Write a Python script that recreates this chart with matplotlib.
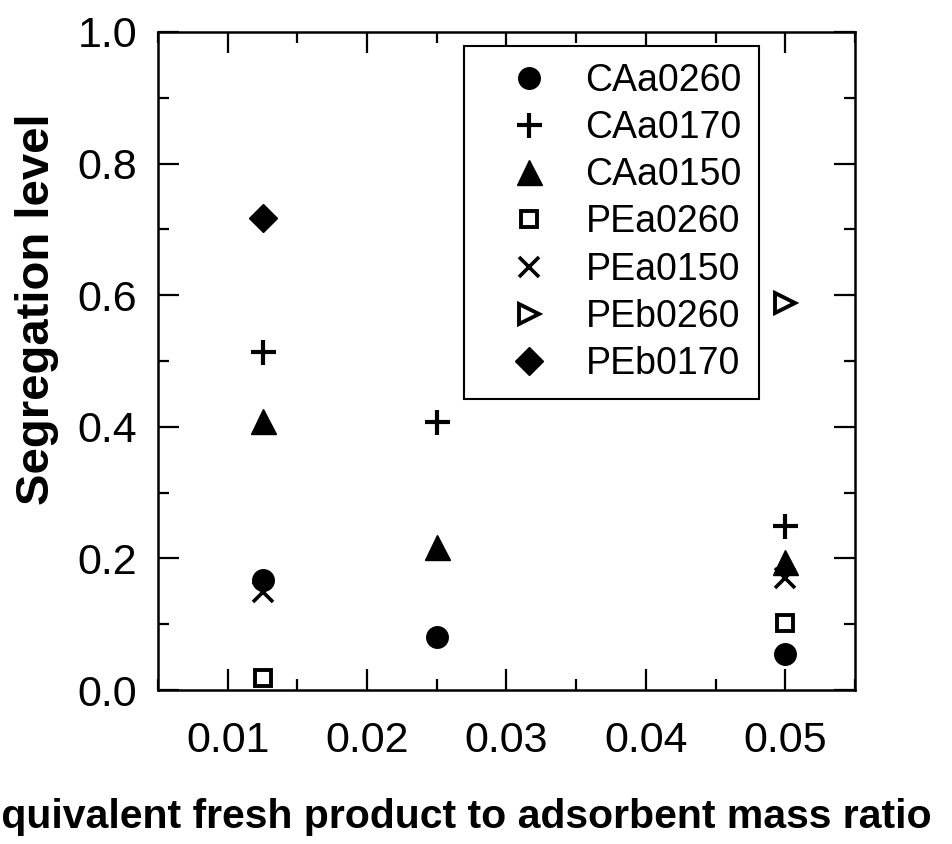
import matplotlib
matplotlib.use("Agg")
import matplotlib.pyplot as plt
from matplotlib.ticker import MultipleLocator, FormatStrFormatter

plt.rcParams['font.family'] = ['Liberation Sans', 'DejaVu Sans']

# mass ratios (x) and segregation levels (y) per sample
series_names = ['CAa0260', 'CAa0170', 'CAa0150', 'PEa0260', 'PEa0150', 'PEb0260', 'PEb0170']
x_caa0260 = [0.0125, 0.025, 0.05]
y_caa0260 = [0.167, 0.081, 0.055]
x_caa0170 = [0.0125, 0.025, 0.05]
y_caa0170 = [0.514, 0.407, 0.249]
x_caa0150 = [0.0125, 0.025, 0.05]
y_caa0150 = [0.409, 0.217, 0.194]
x_pea0260 = [0.0125, 0.05]
y_pea0260 = [0.018, 0.102]
x_pea0150 = [0.0125, 0.05]
y_pea0150 = [0.149, 0.170]
x_peb0260 = [0.05]
y_peb0260 = [0.588]
x_peb0170 = [0.0125]
y_peb0170 = [0.717]

x_data = [x_caa0260, x_caa0170, x_caa0150, x_pea0260, x_pea0150, x_peb0260, x_peb0170]
y_data = [y_caa0260, y_caa0170, y_caa0150, y_pea0260, y_pea0150, y_peb0260, y_peb0170]

# marker styles: (marker, size, filled, edge width)
styles = [
    ('o', 15.5, True, 1.0),
    ('+', 18, True, 3.0),
    ('^', 18, True, 1.0),
    ('s', 12, False, 2.8),
    ('x', 14, True, 2.6),
    ('>', 15, False, 2.8),
    ('D', 14.5, True, 1.0),
]


def main():
    fig = plt.figure(figsize=(9.53, 8.44), dpi=100)
    ax = fig.add_axes([158 / 953, 1 - 690 / 844, 697 / 953, 658 / 844])

    for name, xs, ys, (mk, ms, filled, mew) in zip(series_names, x_data, y_data, styles):
        ax.plot(xs, ys, linestyle='none', marker=mk, markersize=ms,
                markerfacecolor='black' if filled else 'white',
                markeredgecolor='black', markeredgewidth=mew,
                label=name, clip_on=False)

    ax.set_xlim(0.005, 0.055)
    ax.set_ylim(0.0, 1.0)
    ax.xaxis.set_major_locator(MultipleLocator(0.01))
    ax.xaxis.set_minor_locator(MultipleLocator(0.005))
    ax.yaxis.set_major_locator(MultipleLocator(0.2))
    ax.yaxis.set_minor_locator(MultipleLocator(0.1))
    ax.xaxis.set_major_formatter(FormatStrFormatter('%.2f'))
    ax.yaxis.set_major_formatter(FormatStrFormatter('%.1f'))

    for sp in ax.spines.values():
        sp.set_linewidth(1.8)
    ax.tick_params(which='both', direction='in', top=True, right=True, width=1.6)
    ax.tick_params(which='major', length=15, labelsize=31)
    ax.tick_params(axis='y', which='major', pad=15)
    ax.tick_params(axis='x', which='major', pad=22)
    ax.tick_params(which='minor', length=8)

    ax.set_ylabel('Segregation level', fontsize=34, fontweight='bold')
    ax.yaxis.set_label_coords(-0.142, 0.578)

    xl = ax.set_xlabel('Equivalent fresh product to adsorbent mass ratio',
                       fontsize=29.5, fontweight='bold')
    xl.set_horizontalalignment('right')
    xl.set_verticalalignment('baseline')
    ax.xaxis.set_label_coords((932 - 158) / 697, (690 - 828) / 658)

    leg = ax.legend(loc='upper right', bbox_to_anchor=(0.862, 0.979),
                    fontsize=27, numpoints=1, fancybox=False, framealpha=1,
                    edgecolor='black', borderpad=0.45, labelspacing=0.3,
                    handlelength=2.6, handletextpad=0.2, borderaxespad=0)
    leg.get_frame().set_linewidth(1.5)

    fig.savefig('out.png', dpi=100)


if __name__ == "__main__":
    main()
